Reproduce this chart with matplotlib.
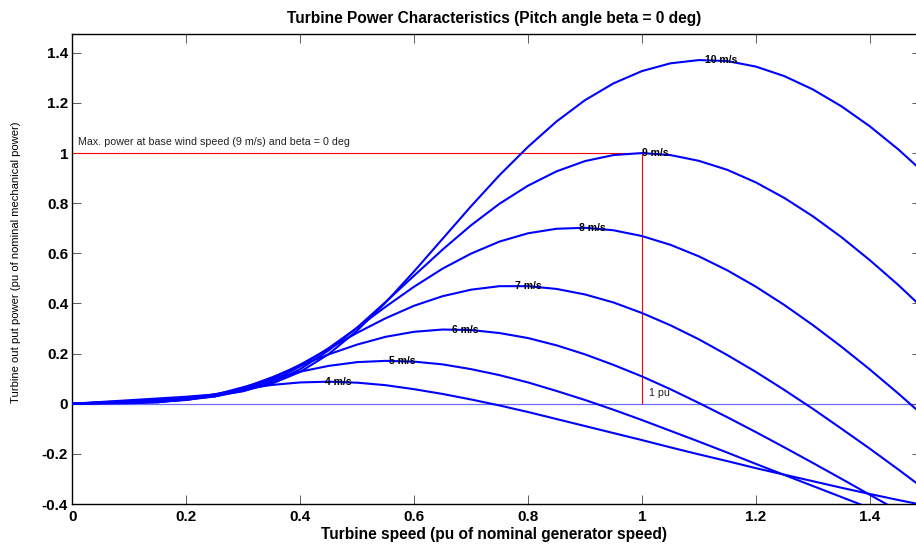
import matplotlib
matplotlib.use("Agg")
import matplotlib.pyplot as plt

speed_pu = [0.0, 0.05, 0.1, 0.15, 0.2, 0.25, 0.3, 0.35, 0.4, 0.45, 0.5, 0.55, 0.6, 0.65, 0.7,
            0.75, 0.8, 0.85, 0.9, 0.95, 1.0, 1.05, 1.1, 1.15, 1.2, 1.25, 1.3, 1.35, 1.4, 1.45, 1.5]
wind_labels = ["4 m/s", "5 m/s", "6 m/s", "7 m/s", "8 m/s", "9 m/s", "10 m/s"]
p4 = [0, 0.001, 0.002, 0.006, 0.019, 0.038, 0.058, 0.075, 0.085, 0.088, 0.084, 0.074, 0.058, 0.039, 0.017,
      -0.007, -0.033, -0.061, -0.089, -0.117, -0.145, -0.174, -0.202, -0.229, -0.257, -0.283, -0.309,
      -0.335, -0.36, -0.384, -0.407]
p5 = [0, 0.002, 0.004, 0.006, 0.016, 0.036, 0.066, 0.098, 0.128, 0.151, 0.166, 0.171, 0.168, 0.157, 0.138,
      0.114, 0.085, 0.051, 0.015, -0.024, -0.065, -0.108, -0.151, -0.195, -0.24, -0.284, -0.328, -0.372,
      -0.416, -0.459, -0.501]
p6 = [0, 0.003, 0.005, 0.008, 0.015, 0.032, 0.063, 0.105, 0.152, 0.197, 0.236, 0.267, 0.287, 0.296, 0.294,
      0.282, 0.262, 0.233, 0.197, 0.155, 0.109, 0.058, 0.003, -0.054, -0.113, -0.174, -0.236, -0.299,
      -0.363, -0.427, -0.491]
p7 = [0, 0.003, 0.007, 0.011, 0.016, 0.029, 0.057, 0.1, 0.156, 0.219, 0.283, 0.341, 0.391, 0.429, 0.455,
      0.469, 0.469, 0.458, 0.436, 0.404, 0.362, 0.313, 0.257, 0.194, 0.127, 0.055, -0.02, -0.099, -0.179,
      -0.262, -0.347]
p8 = [0, 0.005, 0.009, 0.014, 0.019, 0.029, 0.052, 0.091, 0.149, 0.222, 0.303, 0.387, 0.467, 0.539, 0.599,
      0.647, 0.68, 0.698, 0.702, 0.692, 0.669, 0.634, 0.588, 0.532, 0.467, 0.394, 0.314, 0.228, 0.137,
      0.041, -0.059]
p9 = [0, 0.006, 0.011, 0.017, 0.023, 0.032, 0.05, 0.084, 0.138, 0.213, 0.304, 0.406, 0.511, 0.615, 0.712,
      0.798, 0.87, 0.927, 0.968, 0.992, 1, 0.992, 0.969, 0.933, 0.883, 0.821, 0.748, 0.665, 0.573, 0.474,
      0.367]
p10 = [0, 0.007, 0.014, 0.021, 0.028, 0.037, 0.052, 0.08, 0.127, 0.198, 0.292, 0.404, 0.528, 0.658, 0.788,
       0.912, 1.025, 1.126, 1.211, 1.278, 1.327, 1.358, 1.371, 1.367, 1.345, 1.307, 1.254, 1.187, 1.107,
       1.015, 0.912]

peak_speed = [0.444, 0.556, 0.667, 0.778, 0.889, 1.0, 1.111]
peak_power = [0.088, 0.171, 0.296, 0.470, 0.702, 1.0, 1.372]
rated_speed = 1.0
rated_power = 1.0

x_ticks = [0, 0.2, 0.4, 0.6, 0.8, 1.0, 1.2, 1.4]
x_tick_labels = ["0", "0.2", "0.4", "0.6", "0.8", "1", "1.2", "1.4"]
y_ticks = [-0.4, -0.2, 0, 0.2, 0.4, 0.6, 0.8, 1.0, 1.2, 1.4]
y_tick_labels = ["-0.4", "-0.2", "0", "0.2", "0.4", "0.6", "0.8", "1", "1.2", "1.4"]

plt.rcParams['font.family'] = ['Liberation Sans', 'DejaVu Sans']
fig = plt.figure(figsize=(9.16, 5.44), dpi=100)
ax = fig.add_axes([72.4 / 916, 40 / 544, (921 - 72.4) / 916, 470 / 544])

ax.axhline(0, color='#6e6eff', lw=0.9, zorder=1)
ax.hlines(rated_power, 0, rated_speed, color='#ff0000', lw=0.8, zorder=2)
ax.vlines(rated_speed, 0, rated_power, color='#ff0000', lw=0.8, zorder=2)

for series in (p4, p5, p6, p7, p8, p9, p10):
    ax.plot(speed_pu, series, color='#0000ff', lw=1.5, zorder=3, solid_joinstyle='round')

for lab, xs, ys in zip(wind_labels, peak_speed, peak_power):
    ax.text(xs, ys, lab, ha='left', va='center', fontsize=7.5, fontweight='bold', color='black', zorder=4)

ax.text(0.01, 1.045, "Max. power at base wind speed (9 m/s) and beta = 0 deg",
        ha='left', va='center', fontsize=7.7, color='#222222')
ax.text(1.012, 0.044, "1 pu", ha='left', va='center', fontsize=7.7, color='#222222')

ax.set_xlim(0, 1.49)
ax.set_ylim(-0.4, 1.475)
ax.set_xticks(x_ticks)
ax.set_xticklabels(x_tick_labels)
ax.set_yticks(y_ticks)
ax.set_yticklabels(y_tick_labels)
ax.tick_params(direction='in', length=6.5, width=0.6, color='#404040', top=True, right=True,
               labelsize=11)
for lbl in ax.get_xticklabels() + ax.get_yticklabels():
    lbl.set_fontweight('bold')
ax.tick_params(axis='x', pad=4)
ax.tick_params(axis='y', pad=3)
for s in ax.spines.values():
    s.set_linewidth(1.0)
    s.set_color('black')

fig.text(494 / 916, 1 - 18.3 / 544, "Turbine Power Characteristics (Pitch angle beta = 0 deg)",
         ha='center', va='center', fontsize=11.2, fontweight='bold')
fig.text(494 / 916, 1 - 535 / 544, "Turbine speed (pu of nominal generator speed)",
         ha='center', va='center', fontsize=11.2, fontweight='bold')
fig.text(15.7 / 916, 1 - 262 / 544, "Turbine out put power (pu of nominal mechanical power)",
         ha='center', va='center', rotation=90, fontsize=8.1)

fig.savefig('out.png', dpi=100)
